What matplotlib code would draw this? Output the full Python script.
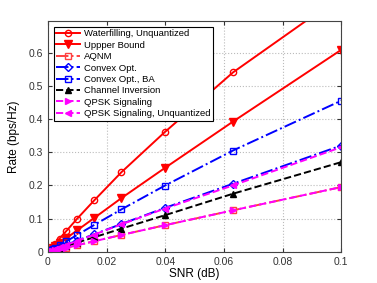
import matplotlib
matplotlib.use("Agg")
import matplotlib.pyplot as plt
import numpy as np

snr = [0.0, 0.001, 0.00158, 0.00251, 0.00398, 0.00631, 0.01, 0.0158, 0.0251, 0.0398, 0.0631, 0.1]

waterfilling = [0.0, 0.010, 0.016, 0.025, 0.040, 0.063, 0.100, 0.155, 0.240, 0.360, 0.540, 0.770]
upper_bound = [0.0, 0.0066, 0.0105, 0.0166, 0.026, 0.041, 0.065, 0.102, 0.162, 0.252, 0.392, 0.608]
aqnm = [0.0, 0.002, 0.0032, 0.0051, 0.0081, 0.0128, 0.020, 0.032, 0.051, 0.080, 0.125, 0.195]
convex = [0.0, 0.0034, 0.0054, 0.0086, 0.0136, 0.0214, 0.034, 0.053, 0.084, 0.132, 0.205, 0.320]
convex_ba = [0.0, 0.0051, 0.0081, 0.0129, 0.020, 0.032, 0.051, 0.081, 0.128, 0.199, 0.305, 0.455]
chan_inv = [0.0, 0.0028, 0.0045, 0.0071, 0.0113, 0.0178, 0.028, 0.044, 0.070, 0.110, 0.175, 0.270]
qpsk = [0.0, 0.002, 0.0032, 0.0051, 0.0081, 0.0128, 0.020, 0.032, 0.051, 0.080, 0.125, 0.195]
qpsk_unq = [0.0, 0.0033, 0.0053, 0.0085, 0.0134, 0.021, 0.033, 0.052, 0.083, 0.130, 0.200, 0.315]

xticks = [0, 0.02, 0.04, 0.06, 0.08, 0.1]
xtick_labels = ["0", "0.02", "0.04", "0.06", "0.08", "0.1"]
yticks = [0, 0.1, 0.2, 0.3, 0.4, 0.5, 0.6]
ytick_labels = ["0", "0.1", "0.2", "0.3", "0.4", "0.5", "0.6"]

plt.rcParams['font.family'] = ['Liberation Sans', 'DejaVu Sans']

fig = plt.figure(figsize=(3.77, 2.83), dpi=100)
ax = fig.add_axes([0.127, 0.11, 0.778, 0.816])

lw = 1.4
ms = 4.5
ax.plot(snr, waterfilling, color="red", linestyle="-", marker="o", mfc="none", lw=lw, ms=ms,
        label="Waterfilling, Unquantized")
ax.plot(snr, upper_bound, color="red", linestyle="-", marker="v", mfc="red", lw=lw, ms=ms + 1,
        label="Uppper Bound")
ax.plot(snr, aqnm, color="#ff4040", linestyle="-.", marker="s", mfc="none", lw=lw, ms=ms - 0.5,
        label="AQNM")
ax.plot(snr, convex, color="blue", linestyle="-.", marker="D", mfc="none", lw=lw, ms=ms - 0.5,
        label="Convex Opt.")
ax.plot(snr, convex_ba, color="blue", linestyle="-.", marker="s", mfc="none", lw=lw, ms=ms - 0.5,
        label="Convex Opt., BA")
ax.plot(snr, chan_inv, color="black", linestyle="--", marker="^", mfc="black", lw=lw, ms=ms + 0.5,
        label="Channel Inversion")
ax.plot(snr, qpsk, color="magenta", linestyle="--", marker=">", mfc="magenta", lw=lw, ms=ms + 0.5,
        label="QPSK Signaling")
ax.plot(snr, qpsk_unq, color="magenta", linestyle="--", marker="<", mfc="magenta", lw=lw, ms=ms + 0.5,
        label="QPSK Signaling, Unquantized")

ax.set_xlim(0, 0.1)
ax.set_ylim(0, 0.695)
ax.set_xticks(xticks)
ax.set_xticklabels(xtick_labels)
ax.set_yticks(yticks)
ax.set_yticklabels(ytick_labels)
ax.tick_params(direction="in", labelsize=7.5, length=3, colors="#333333", top=True, right=True)
ax.grid(True, linestyle=":", color="#bbbbbb", linewidth=0.8)
for sp in ax.spines.values():
    sp.set_color("#444444")

ax.set_xlabel("SNR (dB)", fontsize=8.5, labelpad=1)
ax.set_ylabel("Rate (bps/Hz)", fontsize=8.5, labelpad=6)

leg = ax.legend(loc="upper left", fontsize=6.8, fancybox=False, edgecolor="black",
                framealpha=1, handlelength=2.5, labelspacing=0.25, borderpad=0.3,
                handletextpad=0.4, borderaxespad=0.6)
leg.get_frame().set_linewidth(0.8)

fig.savefig("out.png", dpi=100)
